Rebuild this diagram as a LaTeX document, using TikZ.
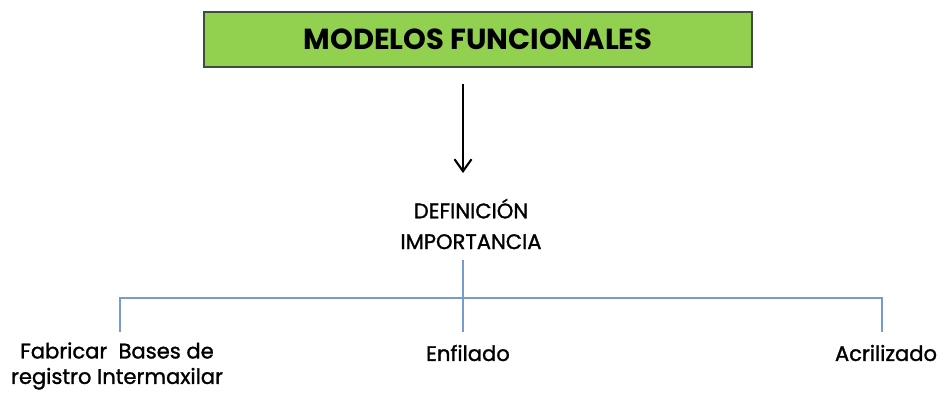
\documentclass[tikz,border=0pt]{standalone}
\usepackage{fontspec}
\setmainfont{Poppins}
\newfontfamily\grueso[FakeBold=1.3]{Poppins}
\usetikzlibrary{arrows.meta}
\definecolor{verdetit}{RGB}{146,208,80}
\definecolor{bordetit}{RGB}{66,76,58}
\definecolor{azulrama}{RGB}{120,155,205}
\tikzset{
	rama/.style={draw=azulrama, line width=1.3pt},
	flecha/.style={-{Straight Barb[length=2.4mm,width=3.4mm]}, line width=1.2pt},
	etiqueta/.style={font=\grueso\fontsize{12}{14.5}\selectfont, inner sep=0pt, align=center},
}

\begin{document}
\begin{tikzpicture}[x=0.02cm, y=-0.02cm]
		\useasboundingbox (0,0) rectangle (945,396);
		\node (titulo) at (478,39.5) [draw=bordetit, fill=verdetit, line width=1.2pt, minimum width=10.96cm, minimum height=1.1cm, font=\bfseries\fontsize{16.5}{18}\selectfont] {MODELOS FUNCIONALES};
		\node (defin) at (471,224) [etiqueta, font=\grueso\fontsize{12}{17.5}\selectfont] {DEFINICIÓN\\IMPORTANCIA};
		\node (fabricar) at (117,366) [etiqueta] {Fabricar\ \ Bases de\\registro Intermaxilar};
		\node (enfilado) at (468,353) [etiqueta] {Enfilado};
		\node (acrilizado) at (886,353) [etiqueta] {Acrilizado};
		\coordinate (cruce) at (463,298);
		\coordinate (izq) at (120,298);
		\coordinate (der) at (882,298);
		\draw[flecha] (titulo.south -| cruce) ++(0,16) -- ++(0,89);
		\draw[rama] (cruce |- defin.south) ++(0,10) -- (cruce) -- ++(0,34);
		\draw[rama] (izq) ++(0,34) -- (izq) -- (der) -- ++(0,34);
	\end{tikzpicture}
\end{document}
